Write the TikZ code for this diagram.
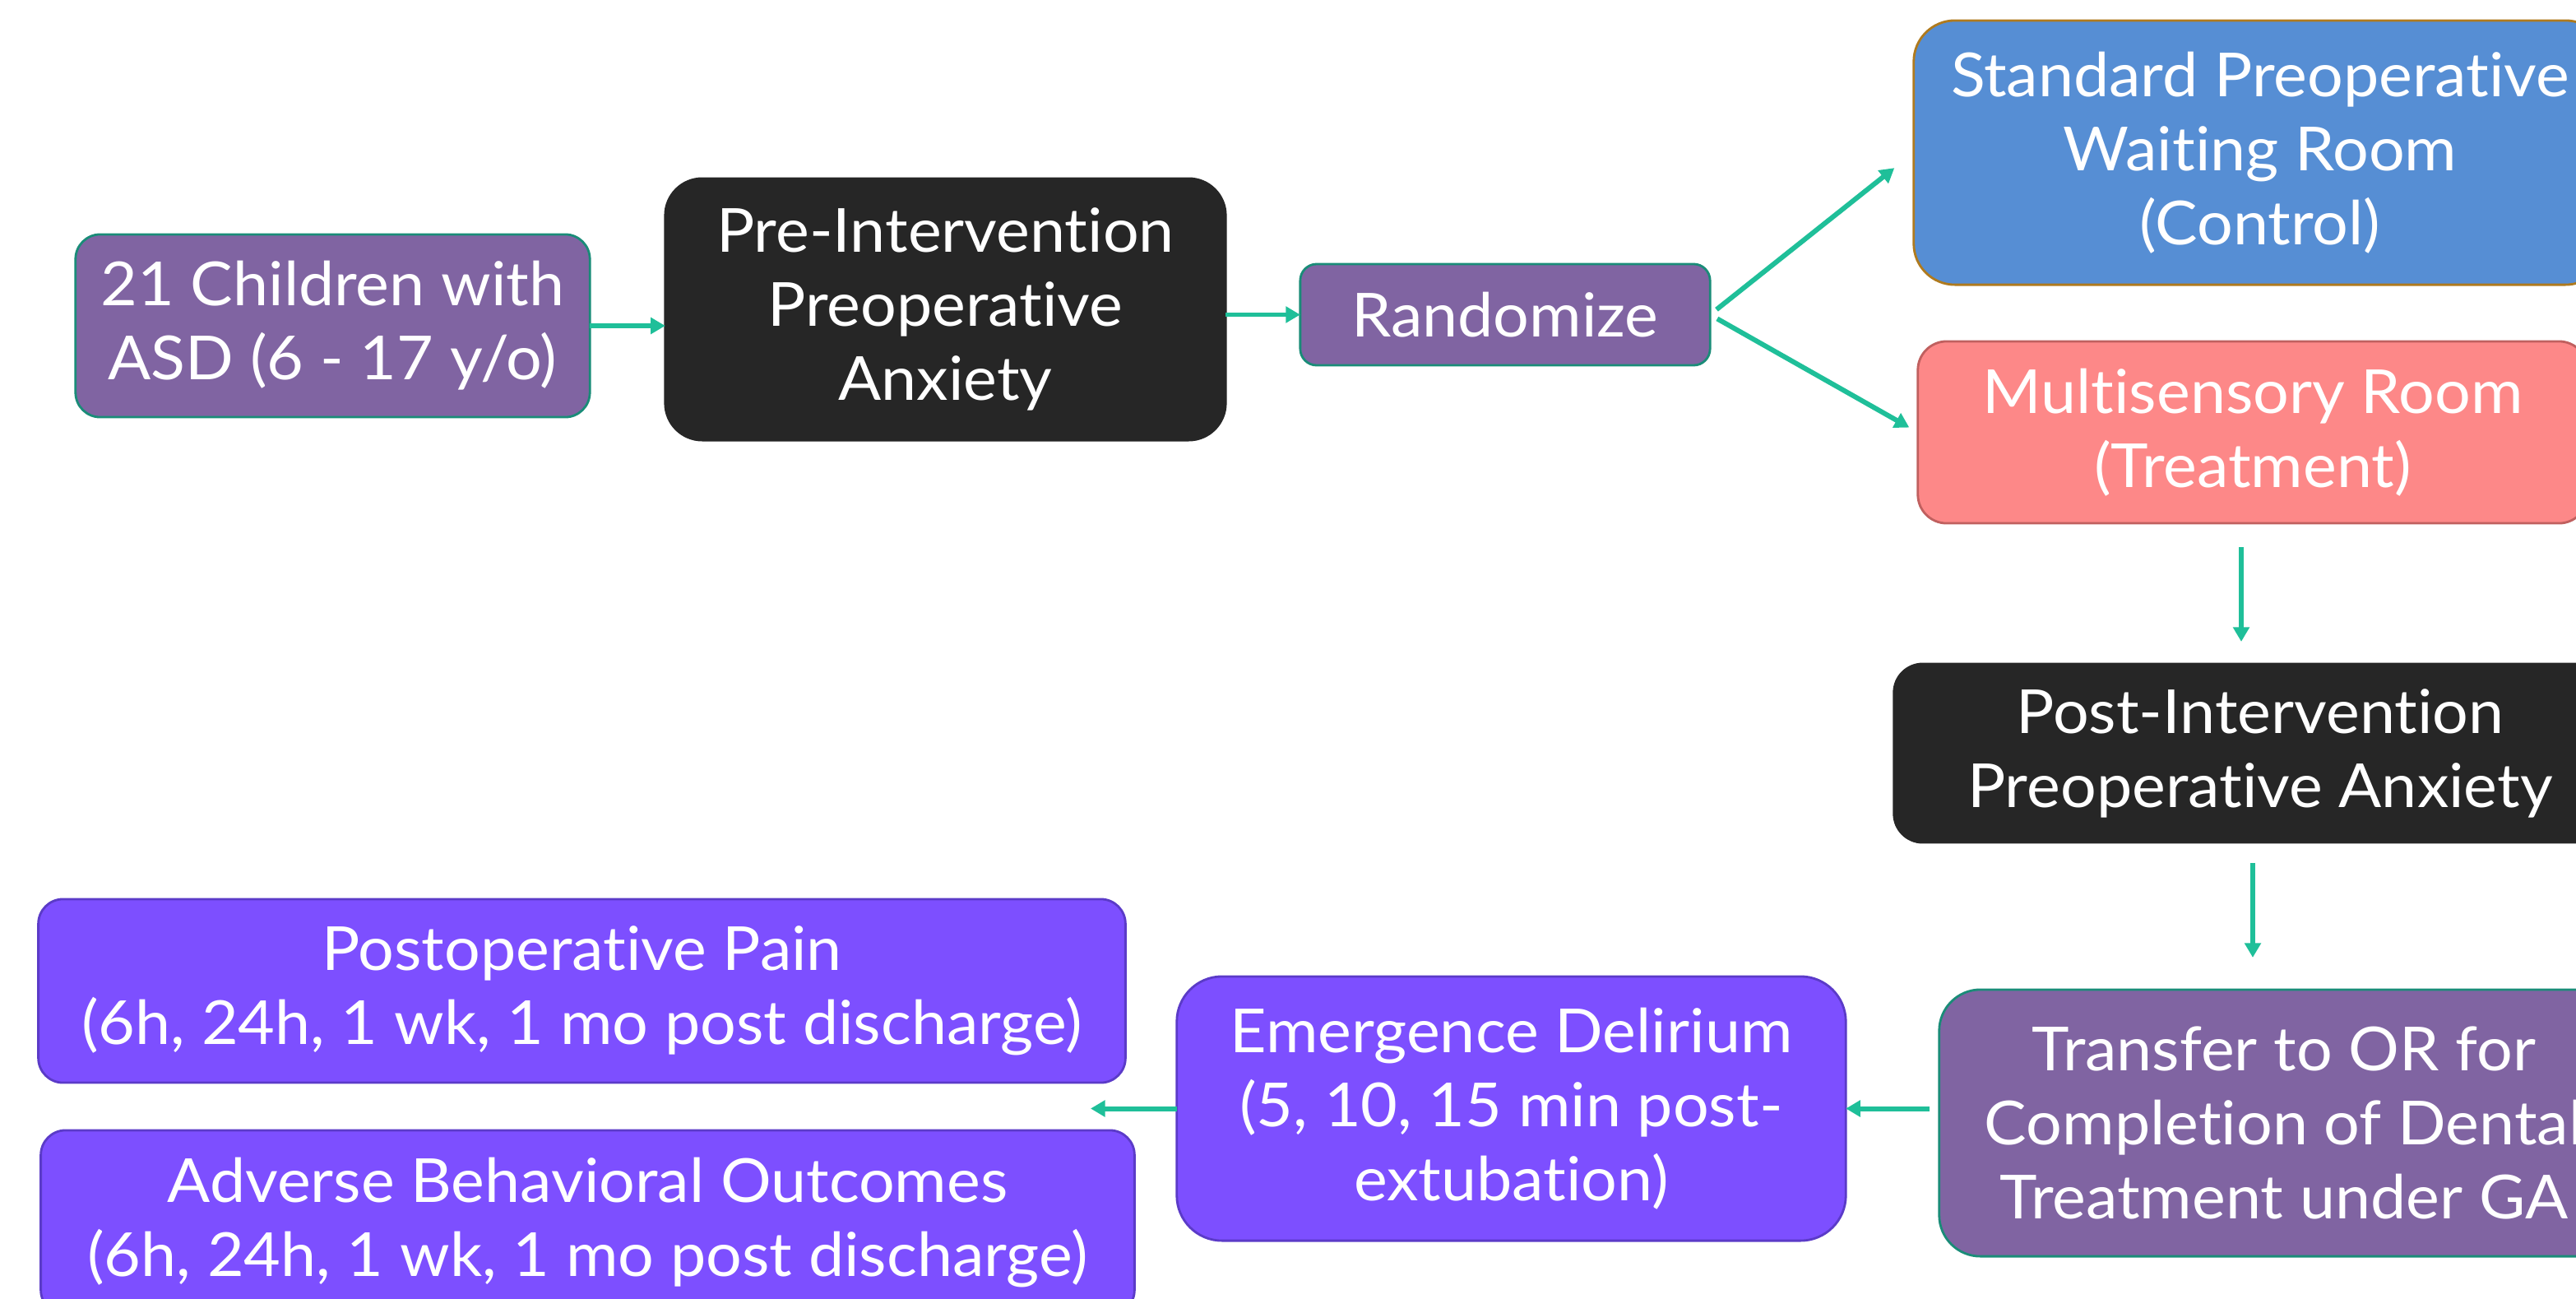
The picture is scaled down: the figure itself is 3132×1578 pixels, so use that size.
\documentclass[tikz,border=0pt]{standalone}
\usepackage{fontspec}
\setmainfont{Lato}[Ligatures={NoCommon}, FakeStretch=1.045]
\usepackage{tikz}
\usetikzlibrary{arrows.meta}

\definecolor{flowteal}{HTML}{1FBF99}
\definecolor{stagepurple}{HTML}{8064A2}
\definecolor{stageedge}{HTML}{1A8C78}
\definecolor{anxietyblack}{HTML}{262626}
\definecolor{controlblue}{HTML}{568ED4}
\definecolor{controledge}{HTML}{AF7A1E}
\definecolor{treatpink}{HTML}{FD8888}
\definecolor{treatedge}{HTML}{C0605F}
\definecolor{outcomeviolet}{HTML}{7D4FFF}
\definecolor{outcomeedge}{HTML}{5B3BC8}

\begin{document}
\begin{tikzpicture}[
    x=0.01cm, y=-0.01cm,
    box/.style={rectangle, draw, line width=0.8pt, inner sep=0pt, outer sep=0pt, align=center, text=white, font=\fontsize{21}{25.6}\selectfont},
    stagebox/.style={box, fill=stagepurple, draw=stageedge},
    anxietybox/.style={box, fill=anxietyblack, draw=anxietyblack},
    controlbox/.style={box, fill=controlblue, draw=controledge, rounded corners=0.5cm},
    treatbox/.style={box, fill=treatpink, draw=treatedge, rounded corners=0.35cm},
    outcomebox/.style={box, fill=outcomeviolet, draw=outcomeedge},
    arrow/.style={-{Triangle[length=5pt, width=5.5pt]}, line width=1.7pt, draw=flowteal}
]

\useasboundingbox (0,0) rectangle (3132,1578);
\clip (0,0) rectangle (3132,1578);

% Top row
\node[stagebox, rounded corners=0.3cm, minimum width=6.25cm, minimum height=2.22cm] (cohort) at (404.5,396) {21 Children with\\ASD (6 - 17 y/o)};
\node[anxietybox, rounded corners=0.45cm, minimum width=6.81cm, minimum height=3.18cm] (preanx) at (1149.5,376) {Pre-Intervention\\Preoperative\\Anxiety};
\node[stagebox, rounded corners=0.2cm, minimum width=4.98cm, minimum height=1.23cm] (rand) at (1830,382.5) {Randomize};

% Study arms
\node[controlbox, minimum width=8.42cm, minimum height=3.21cm] (control) at (2748,185.5) {Standard Preoperative\\Waiting Room\\(Control)};
\node[treatbox, minimum width=8.14cm, minimum height=2.21cm] (treat) at (2739,525.5) {Multisensory Room\\(Treatment)};

% Right column
\node[anxietybox, rounded corners=0.35cm, minimum width=8.9cm, minimum height=2.17cm] (postanx) at (2748,915.5) {Post-Intervention\\Preoperative Anxiety};
\node[stagebox, rounded corners=0.5cm, minimum width=8.38cm, minimum height=3.24cm] (transfer) at (2777,1365) {Transfer to OR for\\Completion of Dental\\Treatment under GA};

% Outcomes
\node[outcomebox, rounded corners=0.55cm, minimum width=8.13cm, minimum height=3.21cm] (delirium) at (1837.5,1347.5) {Emergence Delirium\\(5, 10, 15 min post-\\extubation)};
\node[outcomebox, rounded corners=0.3cm, minimum width=13.21cm, minimum height=2.23cm] (pain) at (707.5,1204.5) {Postoperative Pain\\(6h, 24h, 1 wk, 1 mo post discharge)};
\node[outcomebox, rounded corners=0.3cm, minimum width=13.29cm, minimum height=2.24cm] (behav) at (714.5,1486) {Adverse Behavioral Outcomes\\(6h, 24h, 1 wk, 1 mo post discharge)};
\coordinate (split) at (1326,1347.5);

% Arrows
\draw[arrow] (cohort.east) -- (cohort.east -| preanx.west);
\draw[arrow] (rand.west -| preanx.east) -- (rand.west);
\draw[arrow, shorten <=0.1cm, shorten >=0.3cm] (rand.east) -- (control.west);
\draw[arrow, shorten <=0.1cm, shorten >=0.12cm] (rand.east) -- (treat.west);
\draw[arrow, shorten <=0.29cm, shorten >=0.27cm] ([xshift=-0.14cm]treat.south) -- ([xshift=-0.14cm]treat.south |- postanx.north);
\draw[arrow, shorten <=0.25cm, shorten >=0.39cm] ([xshift=-0.09cm]postanx.south) -- ([xshift=-0.09cm]postanx.south |- transfer.north);
\draw[arrow, shorten <=0.12cm] (delirium.east -| transfer.west) -- (delirium.east);
\draw[arrow] (delirium.west) -- (split);

\end{tikzpicture}
\end{document}
